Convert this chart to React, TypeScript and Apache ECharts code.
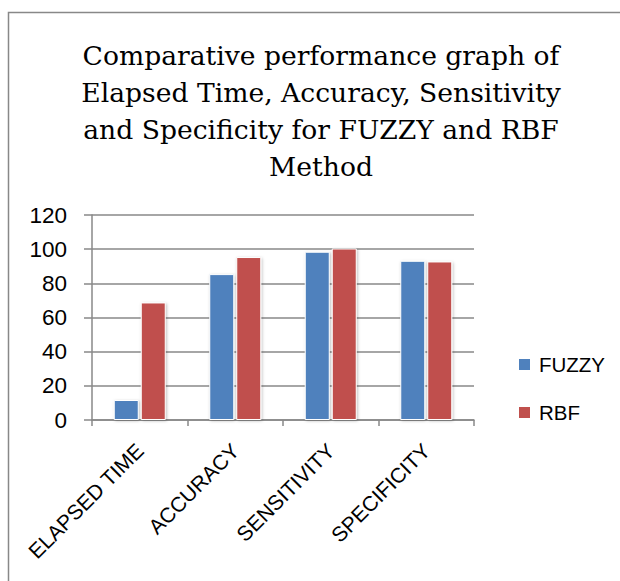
import React, { useEffect, useRef } from "react";
import * as echarts from "echarts";

const categories = ["ELAPSED TIME", "ACCURACY", "SENSITIVITY", "SPECIFICITY"];
const fuzzyValues = [11.7, 85.4, 98.5, 93.2];
const rbfValues = [68.8, 95.4, 100.4, 92.8];
const yTicks = [0, 20, 40, 60, 80, 100, 120];
const titleLines = [
  "Comparative performance graph of",
  "Elapsed Time, Accuracy, Sensitivity",
  "and Specificity for FUZZY and RBF",
  "Method",
];

export default function App() {
  const ref = useRef<HTMLDivElement>(null);
  useEffect(() => {
    document.body.style.margin = "0";
    const chart = echarts.init(ref.current!, null, { renderer: "svg" });
    chart.setOption({
      animation: false,
      backgroundColor: "#ffffff",
      title: {
        text: titleLines.join("\n"),
        left: 321,
        textAlign: "center",
        top: 37,
        padding: 0,
        textStyle: {
          fontFamily: "DejaVu Serif",
          fontWeight: "normal",
          fontSize: 26.6,
          lineHeight: 37,
          color: "#000",
        },
      },
      graphic: [
        {
          type: "rect",
          shape: { x: 8.5, y: 12.5, width: 700, height: 700 },
          style: { fill: "none", stroke: "#888", lineWidth: 1.5 },
          silent: true,
        },
      ],
      legend: {
        orient: "vertical",
        left: 517,
        top: 354,
        padding: 0,
        itemWidth: 13,
        itemHeight: 13,
        itemGap: 27,
        icon: "rect",
        textStyle: { fontFamily: "Liberation Sans", fontSize: 20.5, color: "#000", padding: [0, 0, 0, 3] },
        data: ["FUZZY", "RBF"],
      },
      grid: { left: 92, right: 146, top: 215, bottom: 161, containLabel: false },
      xAxis: {
        type: "category",
        data: categories,
        axisLine: { lineStyle: { color: "#888", width: 1.5 } },
        axisTick: { show: true, length: 6, lineStyle: { color: "#888", width: 1.5 }, alignWithLabel: false },
        axisLabel: {
          rotate: 45,
          margin: 27,
          interval: 0,
          fontFamily: "Liberation Sans",
          fontSize: 21,
          color: "#000",
        },
      },
      yAxis: {
        type: "value",
        min: 0,
        max: 120,
        interval: 20,
        axisLine: { show: true, lineStyle: { color: "#888", width: 1.5 } },
        axisTick: { show: true, length: 8, lineStyle: { color: "#888", width: 1.5 } },
        splitLine: { lineStyle: { color: "#888", width: 1.5 } },
        axisLabel: {
          fontFamily: "Liberation Sans",
          fontSize: 22.5,
          color: "#000",
          margin: 25,
          formatter: (v: number) => (yTicks.includes(v) ? String(v) : ""),
        },
      },
      series: [
        {
          name: "FUZZY",
          type: "bar",
          data: fuzzyValues,
          barWidth: 25,
          barGap: "8%",
          itemStyle: {
            color: "#4F81BD",
            borderColor: "#ffffff",
            borderWidth: 1,
            shadowColor: "rgba(0,0,0,0.25)",
            shadowBlur: 3,
            shadowOffsetX: 1,
            shadowOffsetY: 1,
          },
        },
        {
          name: "RBF",
          type: "bar",
          data: rbfValues,
          barWidth: 25,
          itemStyle: {
            color: "#C0504D",
            borderColor: "#ffffff",
            borderWidth: 1,
            shadowColor: "rgba(0,0,0,0.25)",
            shadowBlur: 3,
            shadowOffsetX: 1,
            shadowOffsetY: 1,
          },
        },
      ],
    });
    return () => chart.dispose();
  }, []);
  return <div ref={ref} style={{ width: 620, height: 581 }} />;
}
